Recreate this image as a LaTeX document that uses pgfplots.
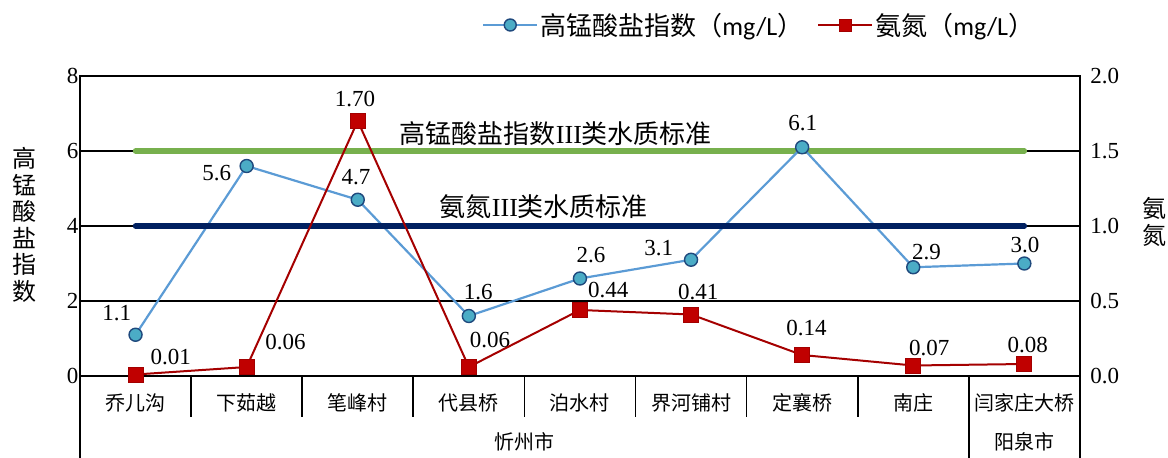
\documentclass[border=0pt]{standalone}
\usepackage{fontspec}
\setmainfont{Liberation Serif}
\newfontfamily\cjk{Noto Sans CJK SC}
\newfontfamily\carlito{Carlito}
\usepackage{pgfplots}
\usepackage{pgfplotstable}
\pgfplotsset{compat=1.18}

\definecolor{lineblue}{RGB}{91,155,213}
\definecolor{mkblue}{RGB}{75,172,198}
\definecolor{mkedge}{RGB}{31,73,125}
\definecolor{linered}{RGB}{165,0,0}
\definecolor{mkred}{RGB}{192,0,0}
\definecolor{stdgreen}{RGB}{119,176,77}
\definecolor{stdnavy}{RGB}{0,32,96}

% 断面监测值
\pgfplotstableread{
x cod nh
0 1.1 0.01
1 5.6 0.06
2 4.7 1.70
3 1.6 0.06
4 2.6 0.44
5 3.1 0.41
6 6.1 0.14
7 2.9 0.07
8 3.0 0.08
}\data

\pgfplotsset{
  codstyle/.style={color=lineblue, line width=2.2pt, mark=*, mark size=6.5pt,
    mark options={fill=mkblue, draw=mkedge, line width=1.4pt}},
  nhstyle/.style={color=linered, line width=2pt, mark=square*, mark size=7.5pt,
    mark options={fill=mkred, draw=mkred!85!black, line width=0.8pt}},
  base/.style={scale only axis, width=1000pt, height=300pt,
    at={(0,0)}, anchor=south west,
    xmin=-0.5, xmax=8.5, clip=false,
    major tick length=0pt,
    axis line style={black, line width=1.6pt},
    /pgf/number format/assume math mode=true,
    yticklabel style={font=\fontsize{23}{23}\selectfont}},
}
\tikzset{dl/.style={font=\fontsize{23}{23}\selectfont, inner sep=0pt, anchor=center}}

\begin{document}
\begin{tikzpicture}
\useasboundingbox (-80pt,-82pt) rectangle (1088pt,376pt);

\begin{axis}[base,
  ymin=0, ymax=8, ytick={0,2,4,6,8},
  ymajorgrids, grid style={black, line width=1.6pt},
  xtick={0,...,8},
  xticklabels={乔儿沟,下茹越,笔峰村,代县桥,泊水村,界河铺村,定襄桥,南庄,闫家庄大桥},
  xticklabel style={font=\cjk\fontsize{20}{20}\selectfont, anchor=center, yshift=-26.7pt},
  yticklabel style={xshift=2pt},
]
\addplot[stdgreen, line width=5.5pt, line cap=round, forget plot] coordinates {(0,6) (8,6)};
\addplot[codstyle] table[x=x, y=cod] {\data};

% 分类分隔线
\pgfplotsinvokeforeach{0.5,1.5,2.5,3.5,4.5,5.5,6.5}{
  \draw[black, line width=1.6pt] (axis cs:#1,0) -- ([yshift=-41pt]axis cs:#1,0);
}
\draw[black, line width=1.6pt] (axis cs:7.5,0) -- ([yshift=-84pt]axis cs:7.5,0);
\draw[black, line width=1.6pt] (axis cs:-0.5,0) -- ([yshift=-84pt]axis cs:-0.5,0);
\draw[black, line width=1.6pt] (axis cs:8.5,0) -- ([yshift=-84pt]axis cs:8.5,0);
\node[font=\cjk\fontsize{20}{20}\selectfont] at ([yshift=-65.7pt]axis cs:3.5,0) {忻州市};
\node[font=\cjk\fontsize{20}{20}\selectfont] at ([yshift=-65.7pt]axis cs:8,0) {阳泉市};

% 标准线标注
\node[font=\fontsize{26}{26}\selectfont, inner sep=0pt] at (axis cs:3.784,6.47) {\cjk 高锰酸盐指数\rmfamily III\cjk 类水质标准};
\node[font=\fontsize{26}{26}\selectfont, inner sep=0pt] at (axis cs:3.676,4.51) {\cjk 氨氮\rmfamily III\cjk 类水质标准};

% 数据标签
\node[dl] at (axis cs:-0.17,1.67) {1.1};
\node[dl] at (axis cs:0.73,5.40) {5.6};
\node[dl] at (axis cs:1.984,5.30) {4.7};
\node[dl] at (axis cs:3.085,2.25) {1.6};
\node[dl] at (axis cs:4.10,3.23) {2.6};
\node[dl] at (axis cs:4.71,3.40) {3.1};
\node[dl] at (axis cs:6.005,6.75) {6.1};
\node[dl] at (axis cs:7.12,3.31) {2.9};
\node[dl] at (axis cs:8.005,3.49) {3.0};
\node[dl] at (axis cs:0.316,0.515) {0.01};
\node[dl] at (axis cs:1.35,0.915) {0.06};
\node[dl] at (axis cs:1.975,7.39) {1.70};
\node[dl] at (axis cs:3.19,0.96) {0.06};
\node[dl] at (axis cs:4.255,2.29) {0.44};
\node[dl] at (axis cs:5.065,2.25) {0.41};
\node[dl] at (axis cs:6.04,1.29) {0.14};
\node[dl] at (axis cs:7.145,0.74) {0.07};
\node[dl] at (axis cs:8.03,0.83) {0.08};

% 纵轴标题
\node[font=\cjk\fontsize{24}{26.5}\selectfont, align=center, inner sep=0pt]
  at ([xshift=-55pt, yshift=151pt]axis cs:-0.5,0) {高\\锰\\酸\\盐\\指\\数};
\node[font=\cjk\fontsize{24}{26.5}\selectfont, align=center, inner sep=0pt]
  at ([xshift=75pt, yshift=154pt]axis cs:8.5,0) {氨\\氮};
\end{axis}

\begin{axis}[base,
  ymin=0, ymax=2, ytick={0,0.5,1,1.5,2},
  axis y line*=right, axis x line=none,
  yticklabel style={xshift=7pt, /pgf/number format/.cd, fixed, fixed zerofill, precision=1},
  legend columns=2,
  legend cell align=left,
  legend style={at={(axis description cs:0.402,1.17)}, anchor=west,
    draw=none, fill=none, inner sep=0pt,
    font=\cjk\fontsize{26}{26}\selectfont,
    /tikz/every even column/.append style={column sep=12pt}},
  legend image code/.code={
    \draw[mark repeat=2, mark phase=2, #1, mark size=6pt] plot coordinates {(0pt,0pt) (27pt,0pt) (54pt,0pt)};
  },
]
\addlegendimage{codstyle}
\addlegendentry{高锰酸盐指数（{\carlito mg/L}）}
\addplot[stdnavy, line width=5.5pt, line cap=round, forget plot] coordinates {(0,1) (8,1)};
\addplot[nhstyle] table[x=x, y=nh] {\data};
\addlegendentry{氨氮（{\carlito mg/L}）}
\end{axis}
\end{tikzpicture}
\end{document}
